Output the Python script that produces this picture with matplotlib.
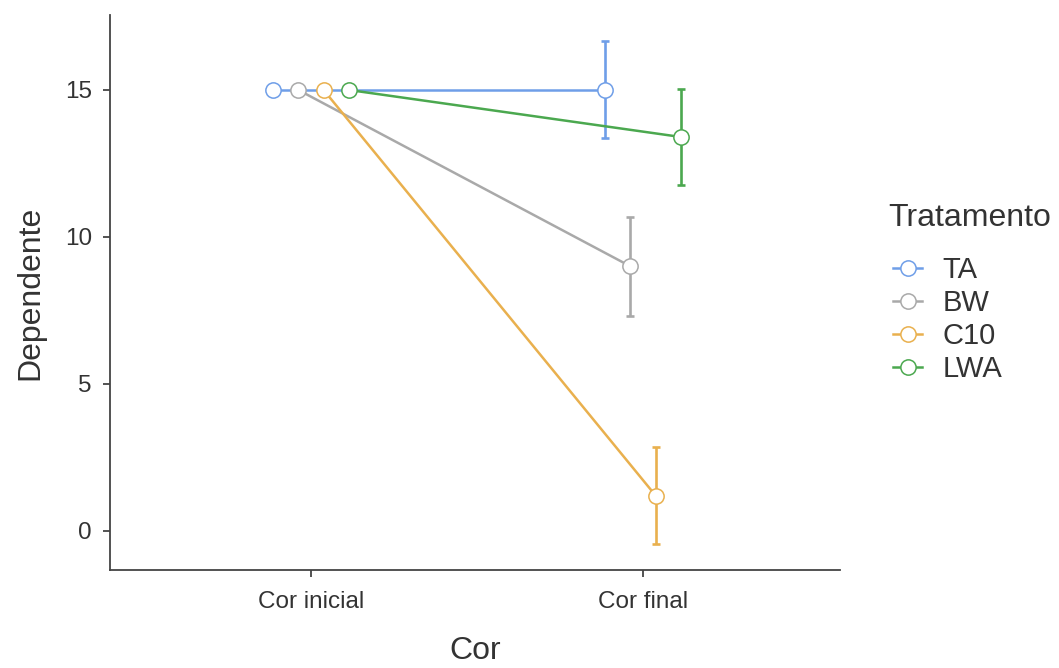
import matplotlib
matplotlib.use("Agg")
import matplotlib.pyplot as plt
import numpy as np

# data
categories = ["Cor inicial", "Cor final"]
groups = ["TA", "BW", "C10", "LWA"]
means_inicial = [15.0, 15.0, 15.0, 15.0]
means_final = [15.0, 9.0, 1.2, 13.4]
err_inicial = [0.0, 0.0, 0.0, 0.0]
err_final = [1.65, 1.68, 1.65, 1.64]
colors = ["#6f9ee8", "#a9a9a9", "#e9b04e", "#4ba84f"]

plt.rcParams['font.family'] = ['Liberation Sans', 'DejaVu Sans']

fig = plt.figure(figsize=(10.59, 6.68), dpi=100)
ax = fig.add_axes([110 / 1059, 1 - 570 / 668, 730 / 1059, 555 / 668])

x = np.arange(len(categories))
dodge = 0.076
handles = []
for i, g in enumerate(groups):
    xi = x + (i - 1.5) * dodge
    m = [means_inicial[i], means_final[i]]
    e = [err_inicial[i], err_final[i]]
    ax.errorbar(xi[1:], m[1:], yerr=e[1:], fmt='none', ecolor=colors[i],
                elinewidth=1.9, capsize=3, capthick=1.9, zorder=2)
    h, = ax.plot(xi, m, color=colors[i], lw=1.8, marker='o', ms=11,
                 mfc='white', mec=colors[i], mew=1.1, zorder=3 + i, label=g)
    handles.append(h)

ax.set_xlim(-0.605, 1.593)
ax.set_ylim(-1.33, 17.55)
ax.set_xticks(x)
ax.set_xticklabels(categories)
ax.set_yticks([0, 5, 10, 15])

for s in ['top', 'right']:
    ax.spines[s].set_visible(False)
for s in ['left', 'bottom']:
    ax.spines[s].set_color('#444444')
    ax.spines[s].set_linewidth(1.3)
ax.tick_params(axis='both', colors='#444444', labelsize=17.5, length=5, width=1.3,
               labelcolor='#333333')
ax.tick_params(axis='y', pad=8)
ax.tick_params(axis='x', pad=10)

ax.set_xlabel("Cor", fontsize=23, color='#333333', labelpad=17)
ax.set_ylabel("Dependente", fontsize=23, color='#333333', labelpad=14)

# legend title drawn apart so the gap below it can be matched
fig.text(888 / 1059, 1 - 218 / 668, "Tratamento", fontsize=23, color='#333333',
         ha='left', va='center')
leg = fig.legend(handles=handles, labels=groups,
                 loc='upper left', bbox_to_anchor=(893 / 1059, 1 - 256 / 668),
                 frameon=False, fontsize=21, borderpad=0, borderaxespad=0,
                 handlelength=1.0, handletextpad=0.7, labelspacing=0.17)
for t in leg.get_texts():
    t.set_color('#333333')

fig.savefig("out.png", dpi=100)
